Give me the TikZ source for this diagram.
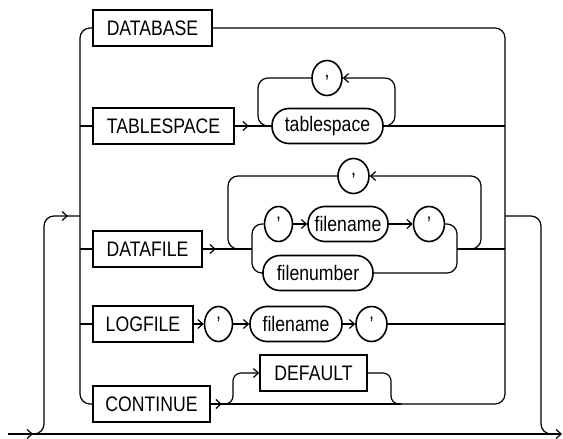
\documentclass[tikz,border=0pt]{standalone}
\usepackage{fontspec}
\setmainfont[FakeStretch=0.84]{Liberation Sans}
\usetikzlibrary{arrows.meta,decorations.markings,shapes.geometric}
\begin{document}
\begin{tikzpicture}[x=1pt,y=-1pt,
  font=\fontsize{21}{24}\selectfont,
  ln/.style={line width=1.2pt, rounded corners=10pt},
  kw/.style={draw, line width=1.6pt, rectangle, minimum height=36pt, inner sep=0pt},
  pill/.style={draw, line width=1.6pt, rounded corners=17pt, minimum height=35pt, inner sep=0pt},
  rnd/.style={draw, line width=1.6pt, ellipse, minimum height=35pt, inner sep=0pt},
  >={Straight Barb[length=5pt,width=9pt]},
  arrowat/.style={postaction={decorate}, decoration={markings, mark=at position #1 with {\arrow{>}}}}
]
\useasboundingbox (0,0) rectangle (563,439);

% nodes
\node[kw, minimum width=119pt] (db) at (152.5,28) {DATABASE};
\node[kw, minimum width=141pt] (tbs) at (163.5,126) {TABLESPACE};
\node[pill, minimum width=111pt] (ts) at (327.5,126) {tablespace};
\node[rnd, minimum width=30pt] (c1) at (327,78) {,};
\node[kw, minimum width=109pt] (df) at (147.5,249) {DATAFILE};
\node[rnd, minimum width=31pt] (c2) at (353.5,176) {,};
\node[rnd, minimum width=28pt] (q1) at (278.5,224) {'};
\node[pill, minimum width=80pt] (fn1) at (348,224) {filename};
\node[rnd, minimum width=31pt] (q2) at (429,224) {'};
\node[pill, minimum width=110pt] (fnum) at (318,273) {filenumber};
\node[kw, minimum width=100pt] (lf) at (143,324) {LOGFILE};
\node[rnd, minimum width=28pt] (q3) at (218.5,324) {'};
\node[pill, minimum width=92pt] (fn2) at (296,324) {filename};
\node[rnd, minimum width=31pt] (q4) at (371.5,324) {'};
\node[kw, minimum width=117pt] (cont) at (151.5,404) {CONTINUE};
\node[kw, minimum width=107pt] (def) at (313.5,373) {DEFAULT};

% outer main line and loop
\coordinate (start) at (8,434);
\coordinate (finish) at (562,434);
\coordinate (entry) at (33,434);
\coordinate (lj) at (80,216);
\coordinate (rj) at (505,216);
\draw[ln,->,arrowat=25pt] (start) -- (finish);
\draw[ln,arrowat=-12pt] (entry) -- (44,434) -- (44,216) -- (lj);
\draw[ln] (rj) -- (541,216) -- (541,434) -- (552,434);

% left spine
\draw[ln] (db.west) -- (80,28) -- (80,404) -- (cont.west);
\draw[ln] (80,126) -- (tbs.west);
\draw[ln] (80,249) -- (df.west);
\draw[ln] (80,324) -- (lf.west);

% right spine
\draw[ln] (db.east) -- (505,28) -- (505,404) -- (400,404);

% TABLESPACE
\draw[ln,arrowat=14pt] (tbs.east) -- (ts.west);
\draw[ln] (ts.east) -- (505,126);
\draw[ln,->] (ts.east) -- (395,126) -- (395,78) -- (c1.east);
\draw[ln] (c1.west) -- (258,78) -- (258,126) -- (ts.west);

% DATAFILE
\draw[ln,arrowat=13pt] (df.east) -- (252,249);
\draw[ln] (q1.west) -- (252,224) -- (252,273) -- (fnum.west);
\draw[ln,->] (q1) -- (fn1);
\draw[ln,->] (fn1) -- (q2);
\draw[ln] (q2.east) -- (457,224) -- (457,273) -- (fnum.east);
\draw[ln] (457,249) -- (505,249);
\draw[ln,->] (466,249) -- (481,249) -- (481,176) -- (c2.east);
\draw[ln] (c2.west) -- (228,176) -- (228,249) -- (243,249);

% LOGFILE
\draw[ln,->] (lf) -- (q3);
\draw[ln,->] (q3) -- (fn2);
\draw[ln,->] (fn2) -- (q4);
\draw[ln] (q4.east) -- (505,324);

% CONTINUE / DEFAULT
\draw[ln,arrowat=11pt] (cont.east) -- (400,404);
\draw[ln,->,rounded corners=8pt] (222,404) -- (233,404) -- (233,373) -- (def.west);
\draw[ln,rounded corners=8pt] (def.east) -- (391,373) -- (391,404) -- (402,404);
\end{tikzpicture}
\end{document}
